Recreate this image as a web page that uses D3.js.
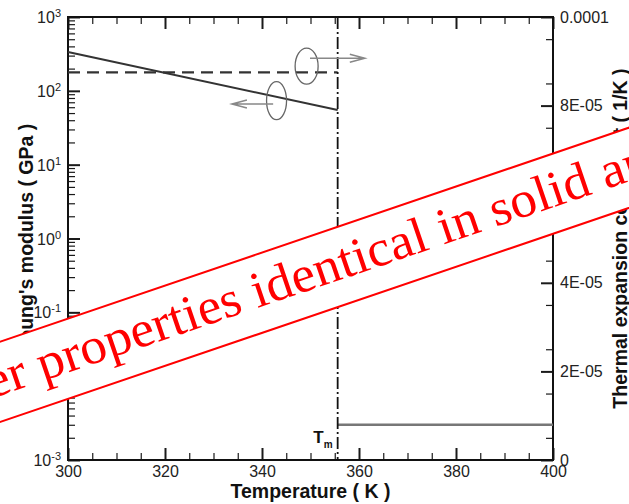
<!DOCTYPE html>
<html>
<head>
<meta charset="utf-8">
<script src="https://cdn.jsdelivr.net/npm/d3@7"></script>
<style>
  body { margin: 0; background: #fff; }
  svg { display: block; }
</style>
</head>
<body>
<svg id="chart" width="629" height="504"></svg>
<script>
// ---- data ----
const tempDomain = [300, 400];
const meltingPoint = 355.6;                 // K

// Young's modulus, solid phase (GPa), exponential decay with temperature
const modulusSolidT = [300, 355.6];
const modulusSolid = [336, 55];
// Young's modulus, liquid phase (GPa)
const modulusLiquidT = [355.6, 400];
const modulusLiquid = [0.003, 0.003];
// Thermal expansion coefficient, solid phase (1/K)
const cteSolidT = [300, 355.6];
const cteSolid = [8.75e-5, 8.75e-5];

// tick values and labels
const xMajorTicks = [300, 320, 340, 360, 380, 400];
const xMinorTicks = [305, 310, 315, 325, 330, 335, 345, 350, 355, 365, 370, 375, 385, 390, 395];
const modulusExponents = [-3, -2, -1, 0, 1, 2, 3];
const cteMajorTicks = [0, 2e-5, 4e-5, 6e-5, 8e-5, 1e-4];
const cteTickLabels = ["0", "2E-05", "4E-05", "6E-05", "8E-05", "0.0001"];
const cteMinorTicks = [5e-6, 1.5e-5, 2.5e-5, 3.5e-5, 4.5e-5, 5.5e-5, 6.5e-5, 7.5e-5, 8.5e-5, 9.5e-5];

// axis-pointer annotations (data units)
const cteMarker = { t: 349.2, v: 8.89e-5, arrowFrom: 349.9, arrowTo: 361.2, arrowV: 9.07e-5 };
const modulusMarker = { t: 343.0, v: 73.5, arrowFrom: 342.3, arrowTo: 333.8, arrowV: 66.4 };

const bannerText = "Other properties identical in solid and liquid";

// ---- layout ----
const svg = d3.select("#chart");
const plot = { left: 68, right: 553, top: 17, bottom: 460 };
const sansFont = "'Liberation Sans', Arial, Helvetica, sans-serif";

const x = d3.scaleLinear().domain(tempDomain).range([plot.left, plot.right]);
const yL = d3.scaleLog().domain([1e-3, 1e3]).range([plot.bottom, plot.top]);
const yR = d3.scaleLinear().domain([0, 1e-4]).range([plot.bottom, plot.top]);

const modulusMinor = [];
for (let e = -3; e < 3; e++) for (let d = 2; d <= 9; d++) modulusMinor.push(d * Math.pow(10, e));

function styleAxis(g, width) {
  g.select(".domain").remove();
  g.selectAll(".tick line").attr("stroke", "#1a1a1a").attr("stroke-width", width);
  g.selectAll("text").attr("font-family", sansFont).attr("font-size", 16).attr("fill", "#222");
}

// bottom axis (labels) + minor ticks
svg.append("g").attr("transform", `translate(0,${plot.bottom})`)
  .call(d3.axisBottom(x).tickValues(xMajorTicks).tickSize(-12).tickSizeOuter(0).tickPadding(6).tickFormat(d3.format("d")))
  .call(g => styleAxis(g, 2));
svg.append("g").attr("transform", `translate(0,${plot.bottom})`)
  .call(d3.axisBottom(x).tickValues(xMinorTicks).tickSize(-7).tickSizeOuter(0).tickFormat(""))
  .call(g => styleAxis(g, 1.2));
// top mirror ticks
svg.append("g").attr("transform", `translate(0,${plot.top})`)
  .call(d3.axisTop(x).tickValues(xMajorTicks).tickSize(-12).tickSizeOuter(0).tickFormat(""))
  .call(g => styleAxis(g, 2));
svg.append("g").attr("transform", `translate(0,${plot.top})`)
  .call(d3.axisTop(x).tickValues(xMinorTicks).tickSize(-7).tickSizeOuter(0).tickFormat(""))
  .call(g => styleAxis(g, 1.2));

// left log axis with power-of-ten labels
const leftAxis = svg.append("g").attr("transform", `translate(${plot.left},0)`)
  .call(d3.axisLeft(yL).tickValues(modulusExponents.map(e => Math.pow(10, e))).tickSize(-12).tickSizeOuter(0).tickFormat(""))
  .call(g => styleAxis(g, 2));
leftAxis.selectAll(".tick text").remove();
leftAxis.selectAll(".tick").data(modulusExponents).each(function (e) {
  const t = d3.select(this).append("text")
    .attr("x", -7).attr("y", 0).attr("dy", "0.35em")
    .attr("text-anchor", "end")
    .attr("font-family", sansFont).attr("font-size", 16).attr("fill", "#222");
  t.append("tspan").text("10");
  t.append("tspan").attr("dy", "-0.55em").attr("font-size", 11).text(String(e));
});
svg.append("g").attr("transform", `translate(${plot.left},0)`)
  .call(d3.axisLeft(yL).tickValues(modulusMinor).tickSize(-7).tickSizeOuter(0).tickFormat(""))
  .call(g => styleAxis(g, 1.2));

// right linear axis
svg.append("g").attr("transform", `translate(${plot.right},0)`)
  .call(d3.axisRight(yR).tickValues(cteMajorTicks).tickSize(-12).tickSizeOuter(0).tickPadding(7)
    .tickFormat((d, i) => cteTickLabels[i]))
  .call(g => styleAxis(g, 2));
svg.append("g").attr("transform", `translate(${plot.right},0)`)
  .call(d3.axisRight(yR).tickValues(cteMinorTicks).tickSize(-7).tickSizeOuter(0).tickFormat(""))
  .call(g => styleAxis(g, 1.2));

// frame
svg.append("rect")
  .attr("x", plot.left).attr("y", plot.top)
  .attr("width", plot.right - plot.left).attr("height", plot.bottom - plot.top)
  .attr("fill", "none").attr("stroke", "#111").attr("stroke-width", 2);

// ---- data lines ----
const lineL = d3.line().x(d => x(d[0])).y(d => yL(d[1]));
const lineR = d3.line().x(d => x(d[0])).y(d => yR(d[1]));

svg.append("path")
  .attr("d", lineL(d3.zip(modulusSolidT, modulusSolid)))
  .attr("fill", "none").attr("stroke", "#333").attr("stroke-width", 2);
svg.append("path")
  .attr("d", lineR(d3.zip(cteSolidT, cteSolid)))
  .attr("fill", "none").attr("stroke", "#333").attr("stroke-width", 2.2)
  .attr("stroke-dasharray", "12,7");
svg.append("path")
  .attr("d", lineL(d3.zip(modulusLiquidT, modulusLiquid)))
  .attr("fill", "none").attr("stroke", "#777").attr("stroke-width", 2.4);

// melting point marker
svg.append("line")
  .attr("x1", x(meltingPoint)).attr("x2", x(meltingPoint))
  .attr("y1", plot.top).attr("y2", plot.bottom)
  .attr("stroke", "#111").attr("stroke-width", 1.8)
  .attr("stroke-dasharray", "12,3,2,3");
const tm = svg.append("text")
  .attr("x", x(meltingPoint) - 5).attr("y", plot.bottom - 17)
  .attr("text-anchor", "end")
  .attr("font-family", sansFont).attr("font-weight", "bold").attr("font-size", 17).attr("fill", "#111");
tm.append("tspan").text("T");
tm.append("tspan").attr("dy", 5).attr("font-size", 10).text("m");

// ---- axis pointers: ellipse around a curve + arrow toward its axis ----
function pointer(cx, cy, rx, ry, ax1, ax2, ay) {
  svg.append("ellipse").attr("cx", cx).attr("cy", cy).attr("rx", rx).attr("ry", ry)
    .attr("fill", "none").attr("stroke", "#666").attr("stroke-width", 1.3);
  const dir = Math.sign(ax2 - ax1);
  svg.append("path")
    .attr("d", `M${ax1},${ay}L${ax2},${ay}M${ax2 - dir * 15},${ay - 4}L${ax2},${ay}L${ax2 - dir * 15},${ay + 4}`)
    .attr("fill", "none").attr("stroke", "#888").attr("stroke-width", 1.5);
}
pointer(x(cteMarker.t), yR(cteMarker.v), 11.5, 18,
  x(cteMarker.arrowFrom), x(cteMarker.arrowTo), yR(cteMarker.arrowV));
pointer(x(modulusMarker.t), yL(modulusMarker.v), 10, 19,
  x(modulusMarker.arrowFrom), x(modulusMarker.arrowTo), yL(modulusMarker.arrowV));

// ---- axis titles ----
svg.append("text")
  .attr("transform", `translate(${(plot.left + plot.right) / 2},498)`)
  .attr("text-anchor", "middle")
  .attr("font-family", sansFont).attr("font-weight", "bold").attr("font-size", 19.5).attr("fill", "#111")
  .text("Temperature ( K )");
svg.append("text")
  .attr("transform", `translate(33,${(plot.top + plot.bottom) / 2}) rotate(-90)`)
  .attr("text-anchor", "middle")
  .attr("font-family", sansFont).attr("font-weight", "bold").attr("font-size", 19.5).attr("fill", "#111")
  .text("Young's modulus ( GPa )");
svg.append("text")
  .attr("transform", `translate(627,${(plot.top + plot.bottom) / 2}) rotate(-90)`)
  .attr("text-anchor", "middle")
  .attr("font-family", sansFont).attr("font-weight", "bold").attr("font-size", 19.5).attr("fill", "#111")
  .text("Thermal expansion coefficient ( 1/K )");

// ---- diagonal banner ----
const banner = svg.append("g").attr("transform", "translate(43,381) rotate(-18.8)");
banner.append("rect")
  .attr("x", -1000).attr("y", -51).attr("width", 3000).attr("height", 76)
  .attr("fill", "#fff").attr("stroke", "#f00").attr("stroke-width", 2);
const bannerFont = "'Liberation Serif', 'Times New Roman', serif";
const bannerSize = 51;
const probe = banner.append("text")
  .attr("font-family", bannerFont).attr("font-size", bannerSize)
  .style("white-space", "pre")
  .text("Other ");
const lead = probe.node().getComputedTextLength();
probe.remove();
banner.append("text")
  .attr("transform", "scale(1.045,1)")
  .attr("x", -lead).attr("y", 0)
  .attr("font-family", bannerFont).attr("font-size", bannerSize).attr("fill", "#f00")
  .text(bannerText);
</script>
</body>
</html>
